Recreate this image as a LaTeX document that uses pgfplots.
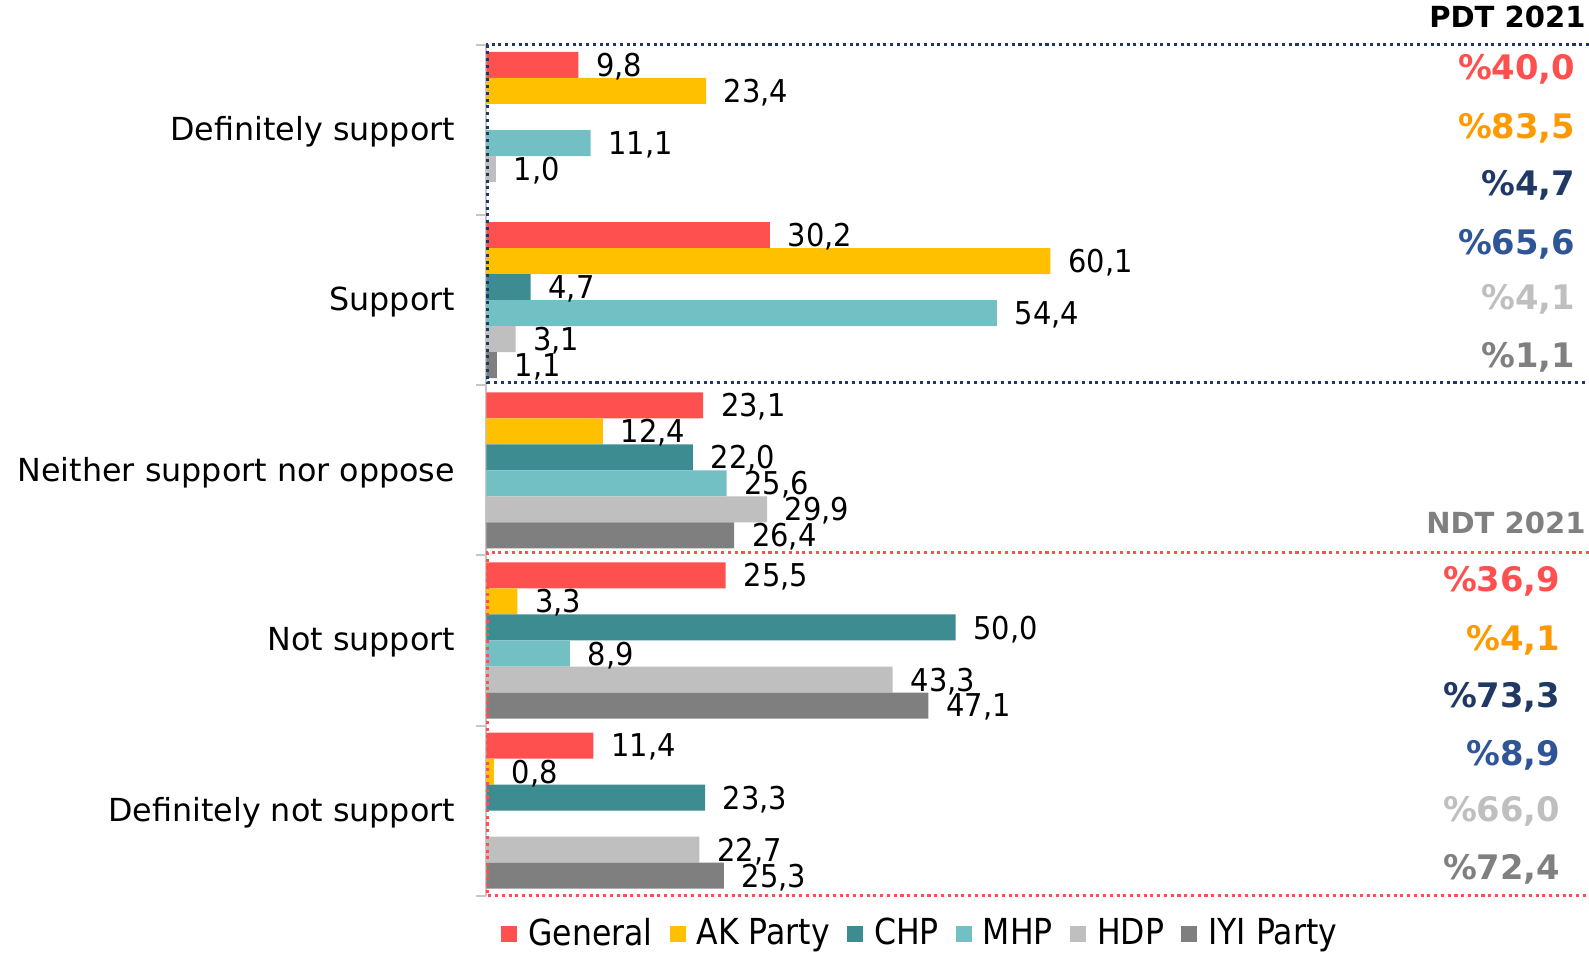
\documentclass[border=0pt]{standalone}
\usepackage{fontspec}
\setmainfont{DejaVu Sans}
\newfontfamily\lblfont{DejaVu Sans}[FakeStretch=0.92]
\newfontfamily\legfont{DejaVu Sans}[FakeStretch=0.88]
\usepackage{pgfplots}
\pgfplotsset{compat=1.18}
\definecolor{cGen}{HTML}{FF5050}
\definecolor{cAK}{HTML}{FFC000}
\definecolor{cCHP}{HTML}{3C8C92}
\definecolor{cMHP}{HTML}{72BFC4}
\definecolor{cHDP}{HTML}{BFBFBF}
\definecolor{cIYI}{HTML}{7F7F7F}
\definecolor{aRed}{HTML}{FF5050}
\definecolor{aOrg}{HTML}{FF9900}
\definecolor{aNavy}{HTML}{203864}
\definecolor{aBlue}{HTML}{2F5597}
\definecolor{aLG}{HTML}{BFBFBF}
\definecolor{aG}{HTML}{808080}
\begin{document}
\begin{tikzpicture}
\useasboundingbox (0,0) rectangle (470.4pt,282.9pt);
\begin{axis}[
  at={(144pt,17.7pt)}, anchor=south west,
  scale only axis, width=326.4pt, height=251.9pt,
  xmin=0, xmax=117.5, ymin=59, ymax=898.6,
  xbar, bar width=7.7pt,
  axis x line=none, axis y line*=left,
  y axis line style={draw=gray!45, line width=0.6pt},
  ytick={814.65,646.75,478.85,310.95,143.05},
  yticklabels={Definitely support,Support,Neither support nor oppose,Not support,Definitely not support},
  major tick length=0pt,
  yticklabel style={font=\fontsize{9.4}{11}\selectfont, inner sep=0pt, xshift=-9.1pt, yshift=-0.6pt},
  clip=false,
  point meta=x,
  nodes near coords={\pgfmathprintnumber[fixed,fixed zerofill,precision=1,use comma,assume math mode=true]{\pgfplotspointmeta}},
  nodes near coords style={font=\lblfont\fontsize{9.3}{11}\selectfont, anchor=west, inner sep=0pt, xshift=5.1pt, yshift=-0.5pt, text=black},
  legend image code/.code={\fill[#1] (0pt,-2.4pt) rectangle (4.8pt,2.4pt);},
  legend style={at={(0.3955,-0.045)}, anchor=center, legend columns=-1, draw=none, fill=none,
    font=\legfont\fontsize{10.6}{12}\selectfont,
    /tikz/every odd column/.append style={column sep=1.2pt},
    /tikz/every even column/.append style={column sep=3.1pt}},
]
\addplot[fill=cGen, draw=none, bar shift=19.25pt] coordinates {(9.8,814.65) (30.2,646.75) (23.1,478.85) (25.5,310.95) (11.4,143.05)};
\addplot[fill=cAK, draw=none, bar shift=11.55pt] coordinates {(23.4,814.65) (60.1,646.75) (12.4,478.85) (3.3,310.95) (0.8,143.05)};
\addplot[fill=cCHP, draw=none, bar shift=3.85pt] coordinates {(4.7,646.75) (22.0,478.85) (50.0,310.95) (23.3,143.05)};
\addplot[fill=cMHP, draw=none, bar shift=-3.85pt] coordinates {(11.1,814.65) (54.4,646.75) (25.6,478.85) (8.9,310.95)};
\addplot[fill=cHDP, draw=none, bar shift=-11.55pt] coordinates {(1.0,814.65) (3.1,646.75) (29.9,478.85) (43.3,310.95) (22.7,143.05)};
\addplot[fill=cIYI, draw=none, bar shift=-19.25pt] coordinates {(1.1,646.75) (26.4,478.85) (47.1,310.95) (25.3,143.05)};
\legend{General,AK Party,CHP,MHP,HDP,IYI Party}
% boundary ticks
\draw[gray!45, line width=0.6pt] ([xshift=-3pt]axis cs:0,898.6) -- (axis cs:0,898.6);
\draw[gray!45, line width=0.6pt] ([xshift=-3pt]axis cs:0,730.7) -- (axis cs:0,730.7);
\draw[gray!45, line width=0.6pt] ([xshift=-3pt]axis cs:0,562.8) -- (axis cs:0,562.8);
\draw[gray!45, line width=0.6pt] ([xshift=-3pt]axis cs:0,394.9) -- (axis cs:0,394.9);
\draw[gray!45, line width=0.6pt] ([xshift=-3pt]axis cs:0,227.0) -- (axis cs:0,227.0);
\draw[gray!45, line width=0.6pt] ([xshift=-3pt]axis cs:0,59.1) -- (axis cs:0,59.1);
% dotted frames
\draw[aNavy, line width=0.9pt, dash pattern=on 0.9pt off 1.1pt] (axis cs:117.5,898.6) -- (axis cs:0.1,898.6) -- (axis cs:0.1,565.7) -- (axis cs:117.5,565.7);
\draw[aRed, line width=0.9pt, dash pattern=on 0.9pt off 1.1pt] (axis cs:117.5,397.6) -- (axis cs:0.1,397.6) -- (axis cs:0.1,59) -- (axis cs:117.5,59);
% annotations
\begin{scope}[every node/.style={anchor=east, inner sep=0pt, font=\bfseries\fontsize{10}{12}\selectfont}]
\node[font=\bfseries\fontsize{8.6}{10}\selectfont, text=black] at (axis cs:117.2,926) {PDT 2021};
\node[text=aRed] at (axis cs:116.1,874) {\%40,0};
\node[text=aOrg] at (axis cs:116.1,816) {\%83,5};
\node[text=aNavy] at (axis cs:116.1,760) {\%4,7};
\node[text=aBlue] at (axis cs:116.1,702) {\%65,6};
\node[text=aLG] at (axis cs:116.1,648) {\%4,1};
\node[text=aG] at (axis cs:116.1,590) {\%1,1};
\node[font=\bfseries\fontsize{8.6}{10}\selectfont, text=aG] at (axis cs:117.2,427) {NDT 2021};
\node[text=aRed] at (axis cs:114.5,369) {\%36,9};
\node[text=aOrg] at (axis cs:114.5,311) {\%4,1};
\node[text=aNavy] at (axis cs:114.5,255) {\%73,3};
\node[text=aBlue] at (axis cs:114.5,198) {\%8,9};
\node[text=aLG] at (axis cs:114.5,142) {\%66,0};
\node[text=aG] at (axis cs:114.5,85) {\%72,4};
\end{scope}
\end{axis}
\end{tikzpicture}
\end{document}
